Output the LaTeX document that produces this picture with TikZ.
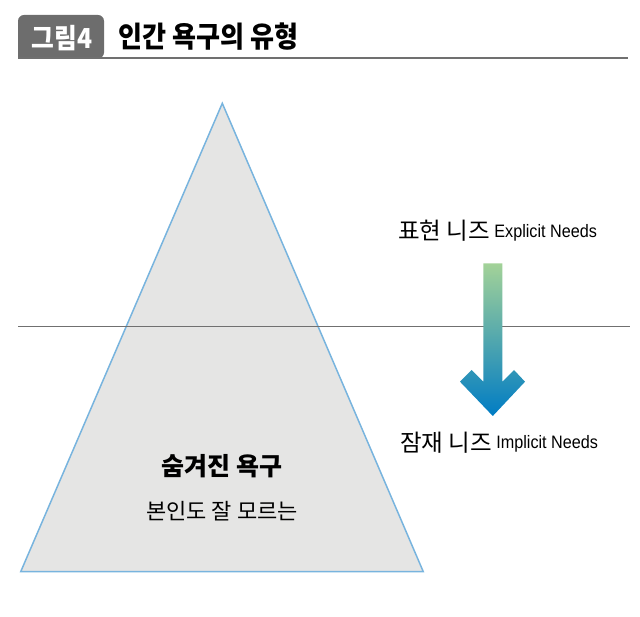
\documentclass[tikz,border=0pt]{standalone}
\usepackage{fontspec}
\usetikzlibrary{positioning}
\newfontfamily\krfont{Noto Sans CJK KR}
\newfontfamily\krnarrow{Noto Sans CJK KR}[FakeStretch=0.9]
\newfontfamily\enfont{Liberation Sans}[FakeStretch=0.9]
\definecolor{tabgray}{RGB}{109,109,109}
\definecolor{rulegray}{RGB}{112,112,112}
\definecolor{icefill}{RGB}{229,229,228}
\definecolor{iceedge}{RGB}{120,180,222}
\definecolor{arrtop}{RGB}{163,210,152}
\definecolor{arrmid}{RGB}{30,158,190}
\definecolor{arrbot}{RGB}{0,124,196}
\tikzset{
  tabtxt/.style={inner sep=0pt,anchor=base,text=white,font=\krnarrow\bfseries\fontsize{27.5}{27.5}\selectfont},
  ttl/.style={inner sep=0pt,anchor=base west,font=\krnarrow\bfseries\fontsize{29}{29}\selectfont},
  krlab/.style={inner sep=0pt,anchor=base west,font=\krfont\fontsize{23.5}{23.5}\selectfont},
  enlab/.style={inner sep=0pt,anchor=base west,font=\enfont\fontsize{18}{18}\selectfont},
  hidlab/.style={inner sep=0pt,anchor=base,font=\krfont\bfseries\fontsize{25}{25}\selectfont},
  sublab/.style={inner sep=0pt,anchor=base,font=\krfont\fontsize{22}{22}\selectfont},
  sealine/.style={rulegray,line width=1pt}
}
\begin{document}
\begin{tikzpicture}[x=1pt,y=-1pt]
  \useasboundingbox (0,0) rectangle (640,617);
  % header
  \fill[tabgray,rounded corners=6pt] (18,58.5) -- (18,15) -- (104,15) -- (104,58.5) [sharp corners] -- cycle;
  \draw[rulegray,line width=2pt] (18,58.5) coordinate (hl) -- (628,58.5) coordinate (hr);
  \node[tabtxt] (fig) at (62,49) {그림4};
  \node[ttl] (title) at (118,48) {인간 욕구의 유형};
  % iceberg
  \coordinate (apex) at (222.3,103.3);
  \coordinate (bl) at (20.7,571.7);
  \coordinate (br) at (423.3,571.7);
  \draw[fill=icefill,draw=iceedge,line width=1.5pt,line join=miter] (apex) -- (br) -- (bl) -- cycle;
  \draw[sealine] (18,326.5) coordinate (sl) -- (630,326.5) coordinate (sr);
  % arrow
  \shade[top color=arrtop,middle color=arrmid,bottom color=arrbot]
    (483.3,263.3) -- (502.3,263.3) -- (502.3,381.7) -- (514,370) -- (525,381.7)
    -- (492.8,416) -- (460,381.7) -- (471.7,370) -- (483.3,381.7) -- cycle;
  % labels
  \node[krlab] (expkr) at (398,239.5) {표현 니즈};
  \node[enlab] (expen) at ([xshift=4pt,yshift=2pt]expkr.base east) {Explicit Needs};
  \node[krlab] (impkr) at (400,451) {잠재 니즈};
  \node[enlab] (impen) at ([xshift=4pt,yshift=2pt]impkr.base east) {Implicit Needs};
  \node[hidlab] (hidden) at (222,475.5) {숨겨진 욕구};
  \node[sublab] (hidsub) at (222,519) {본인도 잘 모르는};
\end{tikzpicture}
\end{document}
